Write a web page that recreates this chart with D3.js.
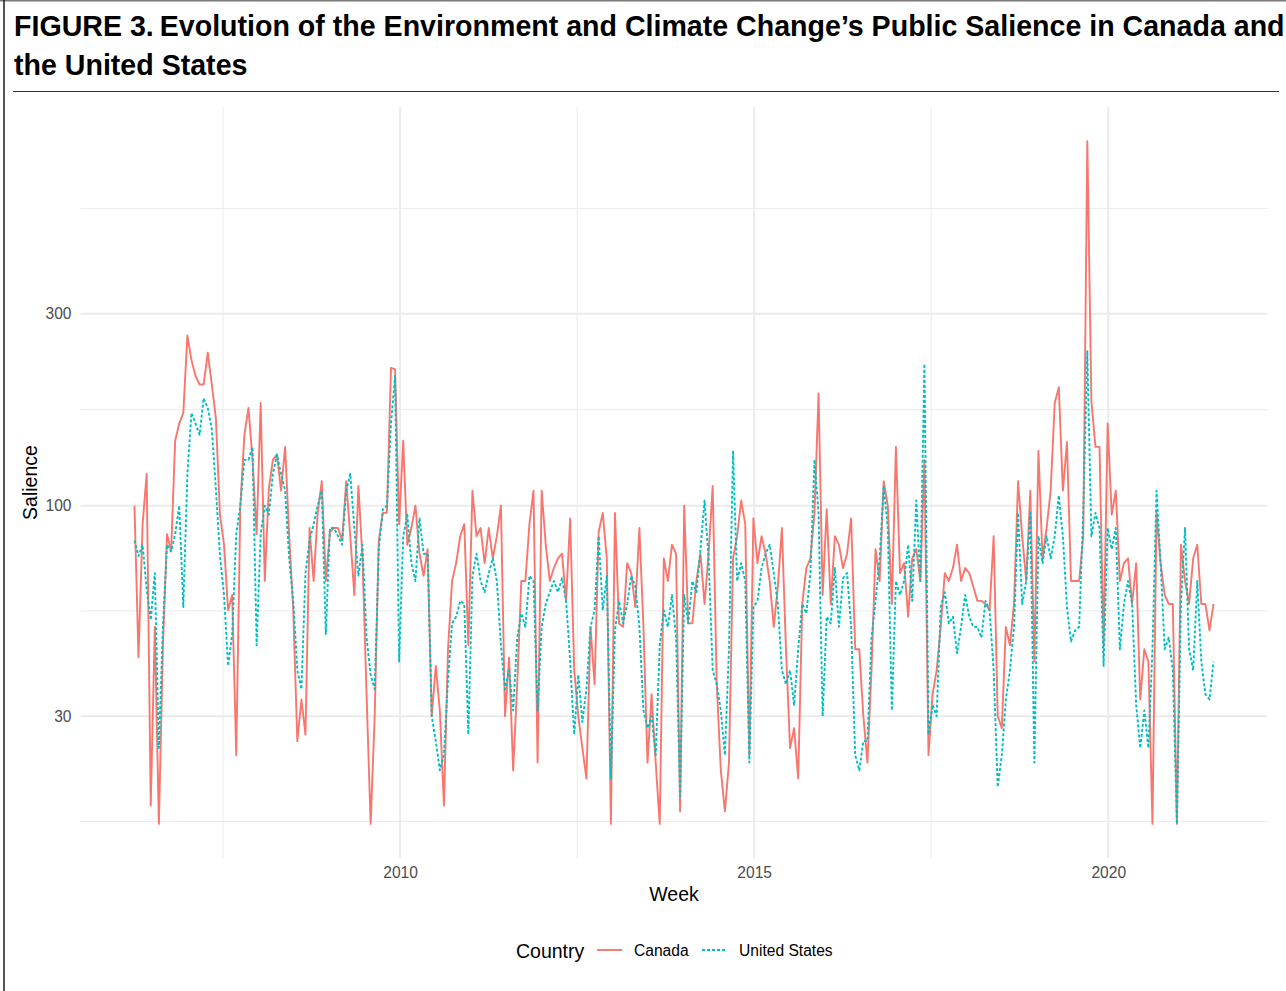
<!DOCTYPE html>
<html>
<head>
<meta charset="utf-8">
<script src="https://cdn.jsdelivr.net/npm/d3@7"></script>
<style>
  html, body { margin: 0; padding: 0; background: #fff; }
  svg { display: block; font-family: "Liberation Sans", Arial, Helvetica, sans-serif; }
</style>
</head>
<body>
<svg id="chart" width="1286" height="991"></svg>
<script>
// Weekly salience series, sampled every third week from the first week.
const firstWeek = "2006-04-02";
const weekStep = 3;

const canada = [
  100, 42, 90, 120, 18, 50, 16.2, 45, 85, 77, 145, 160, 170, 265, 230, 210, 200, 200, 240, 200,
  165, 95, 80, 55, 60, 24, 100, 150, 175, 130, 85, 180, 65, 110, 130, 134, 109, 140, 84, 55,
  26, 33, 27, 88, 65, 96, 115, 65, 86, 88, 88, 82, 115, 84, 60, 112, 74, 34, 16.2, 30,
  82, 96, 96, 220, 218, 90, 145, 80, 88, 100, 76, 67, 78, 30, 40, 31, 18, 44, 65, 72,
  84, 90, 45, 109, 84, 88, 72, 88, 74, 84, 100, 30, 42, 22, 36, 65, 65, 90, 109, 23,
  109, 80, 65, 70, 74, 76, 58, 93, 39, 30, 25, 21, 50, 36, 86, 96, 74, 16.2, 96, 51,
  50, 72, 68, 56, 88, 50, 23, 34, 23, 16.2, 74, 65, 80, 76, 17.4, 100, 51, 51, 65, 76,
  57, 76, 112, 36, 22, 17.4, 23, 74, 84, 103, 90, 24, 93, 72, 84, 76, 65, 50, 63, 88,
  44, 25, 28, 21, 57, 70, 74, 96, 190, 60, 98, 57, 84, 80, 70, 76, 93, 44, 44, 30,
  23, 39, 78, 65, 115, 100, 57, 140, 68, 72, 53, 74, 78, 65, 130, 24, 34, 39, 50, 68,
  65, 70, 80, 65, 70, 68, 63, 58, 58, 57, 55, 84, 30, 28, 50, 45, 57, 115, 84, 65,
  109, 41, 137, 74, 88, 109, 180, 197, 109, 144, 65, 65, 65, 84, 805, 182, 140, 140, 45, 160,
  95, 109, 65, 72, 74, 57, 72, 33, 44, 41, 16.2, 96, 72, 60, 57, 57, 16.2, 80, 65, 57,
  74, 80, 57, 57, 49, 57
];

const unitedStates = [
  82, 75, 80, 62, 52, 68, 25, 50, 80, 77, 85, 100, 56, 120, 170, 160, 150, 185, 175, 155,
  110, 75, 60, 40, 48, 85, 100, 130, 130, 140, 45, 85, 100, 95, 120, 134, 120, 109, 74, 58,
  39, 35, 68, 82, 90, 100, 109, 48, 88, 88, 84, 80, 109, 120, 88, 67, 80, 47, 38, 35,
  78, 98, 100, 160, 210, 41, 84, 95, 72, 65, 93, 76, 76, 30, 26, 22, 24, 37, 51, 53,
  58, 57, 27, 67, 76, 65, 61, 68, 74, 65, 45, 35, 39, 31, 47, 54, 50, 67, 65, 31,
  50, 57, 61, 65, 61, 66, 58, 41, 27, 38, 29, 35, 50, 55, 84, 55, 67, 21, 49, 58,
  51, 57, 67, 63, 50, 31, 28, 30, 24, 45, 55, 50, 60, 47, 19, 60, 51, 65, 61, 78,
  103, 74, 39, 36, 31, 24, 44, 137, 65, 72, 65, 23, 56, 58, 70, 76, 80, 68, 57, 39,
  36, 39, 32, 44, 57, 54, 68, 130, 96, 30, 53, 51, 70, 50, 66, 68, 50, 24, 22, 26,
  26, 47, 58, 74, 112, 88, 31, 65, 60, 65, 80, 58, 103, 65, 225, 27, 32, 30, 56, 61,
  51, 53, 43, 50, 60, 53, 50, 50, 47, 58, 55, 39, 20, 24, 33, 39, 50, 96, 57, 65,
  96, 23, 84, 72, 84, 74, 84, 106, 84, 56, 46, 49, 50, 96, 242, 84, 96, 88, 40, 88,
  78, 88, 44, 57, 65, 57, 32, 25, 31, 25, 44, 109, 72, 44, 47, 39, 16.2, 57, 88, 44,
  39, 65, 41, 34, 33, 41
];

const seriesNames = ["Canada", "United States"];
const seriesColors = ["#F8766D", "#00BFC4"];
const yTickValues = [30, 100, 300];
const xTickYears = [2010, 2015, 2020];

const titleLines = [
  "FIGURE 3.",
  "Evolution of the Environment and Climate Change\u2019s Public Salience in Canada and",
  "the United States"
];

const svg = d3.select("#chart");
const W = 1286, H = 991;
const panel = { left: 80.5, right: 1267.5, top: 107, bottom: 858 };

// ---- frame and title ----
svg.append("line").attr("x1", 0).attr("x2", W).attr("y1", 0.75).attr("y2", 0.75)
  .attr("stroke", "#7a7a7a").attr("stroke-width", 1.5);
svg.append("line").attr("x1", 4).attr("x2", 4).attr("y1", 0).attr("y2", H)
  .attr("stroke", "#1a1a1a").attr("stroke-width", 1.5);

const titleLeft = 14, titleRight = 1279;
const t1 = svg.append("text").attr("x", titleLeft).attr("y", 36)
  .attr("font-weight", "bold").attr("font-size", 26).attr("fill", "#000");
t1.append("tspan").text(titleLines[0]);
t1.append("tspan").attr("dx", 6).text(titleLines[1]);
const measured = t1.node().getComputedTextLength();
const titleSize = 26 * (titleRight - titleLeft) / measured;
t1.attr("font-size", titleSize);
svg.append("text").attr("x", titleLeft).attr("y", 75)
  .attr("font-weight", "bold").attr("font-size", titleSize).attr("fill", "#000")
  .text(titleLines[2]);
svg.append("line").attr("x1", 13).attr("x2", 1279).attr("y1", 91.5).attr("y2", 91.5)
  .attr("stroke", "#333").attr("stroke-width", 1);

// ---- data ----
const dayMs = 864e5;
const t0 = new Date(firstWeek + "T00:00:00Z");
const rows = canada.map((v, i) => ({
  date: new Date(t0.getTime() + i * weekStep * 7 * dayMs),
  values: [v, unitedStates[i]]
}));

const [d0, d1] = d3.extent(rows, r => r.date);
const span = d1 - d0;
const x = d3.scaleUtc()
  .domain([new Date(+d0 - span * 0.05), new Date(+d1 + span * 0.05)])
  .range([panel.left, panel.right]);

const [v0, v1] = d3.extent(canada.concat(unitedStates));
const l0 = Math.log10(v0), l1 = Math.log10(v1), ls = l1 - l0;
const y = d3.scaleLog()
  .domain([Math.pow(10, l0 - ls * 0.05), Math.pow(10, l1 + ls * 0.05)])
  .range([panel.bottom, panel.top]);

// ---- grid ----
const grid = svg.append("g");
const gridColor = "#EBEBEB";

// minor y lines: midpoints (in log space) between majors, extended one step each way
const ly = yTickValues.map(Math.log10);
const bdY = ly[1] - ly[0];
const extY = [ly[0] - bdY, ...ly, ly[ly.length - 1] + bdY];
const minorY = d3.pairs(extY).map(([a, b]) => Math.pow(10, (a + b) / 2))
  .filter(v => v > y.domain()[0] && v < y.domain()[1]);

const xMajor = xTickYears.map(yr => new Date(Date.UTC(yr, 0, 1)));
const stepYr = xTickYears[1] - xTickYears[0];
const extX = [xTickYears[0] - stepYr, ...xTickYears, xTickYears[xTickYears.length - 1] + stepYr]
  .map(yr => new Date(Date.UTC(yr, 0, 1)));
const minorX = d3.pairs(extX).map(([a, b]) => new Date((+a + +b) / 2))
  .filter(d => d > x.domain()[0] && d < x.domain()[1]);

grid.selectAll(".ymin").data(minorY).join("line")
  .attr("x1", panel.left).attr("x2", panel.right)
  .attr("y1", d => y(d)).attr("y2", d => y(d))
  .attr("stroke", gridColor).attr("stroke-width", 1);
grid.selectAll(".xmin").data(minorX).join("line")
  .attr("y1", panel.top).attr("y2", panel.bottom)
  .attr("x1", d => x(d)).attr("x2", d => x(d))
  .attr("stroke", gridColor).attr("stroke-width", 1);
grid.selectAll(".ymaj").data(yTickValues).join("line")
  .attr("x1", panel.left).attr("x2", panel.right)
  .attr("y1", d => y(d)).attr("y2", d => y(d))
  .attr("stroke", gridColor).attr("stroke-width", 2);
grid.selectAll(".xmaj").data(xMajor).join("line")
  .attr("y1", panel.top).attr("y2", panel.bottom)
  .attr("x1", d => x(d)).attr("x2", d => x(d))
  .attr("stroke", gridColor).attr("stroke-width", 2);

// ---- lines ----
const lines = svg.append("g");
seriesNames.forEach((name, k) => {
  const gen = d3.line().x(r => x(r.date)).y(r => y(r.values[k]));
  const p = lines.append("path").datum(rows)
    .attr("d", gen)
    .attr("fill", "none")
    .attr("stroke", seriesColors[k])
    .attr("stroke-width", 1.9)
    .attr("stroke-linejoin", "round");
  if (k === 1) p.attr("stroke-dasharray", "3 2");
});

// ---- axes ----
const tickColor = "#4D4D4D";
const yAxis = svg.append("g").attr("transform", `translate(${panel.left - 9},0)`)
  .call(d3.axisLeft(y).tickValues(yTickValues).tickFormat(d3.format("d")).tickSize(0).tickPadding(0));
yAxis.select(".domain").remove();
yAxis.selectAll("text").attr("font-size", 15.6).attr("fill", tickColor)
  .attr("font-family", "Liberation Sans, Arial, sans-serif");

const xAxis = svg.append("g").attr("transform", `translate(0,${panel.bottom + 9})`)
  .call(d3.axisBottom(x).tickValues(xMajor).tickFormat(d3.utcFormat("%Y")).tickSize(0).tickPadding(0));
xAxis.select(".domain").remove();
xAxis.selectAll("text").attr("font-size", 15.6).attr("fill", tickColor)
  .attr("font-family", "Liberation Sans, Arial, sans-serif");

svg.append("text")
  .attr("x", (panel.left + panel.right) / 2).attr("y", 901)
  .attr("text-anchor", "middle").attr("font-size", 19.5).attr("fill", "#000")
  .text("Week");
svg.append("text")
  .attr("transform", `translate(36.5,${(panel.top + panel.bottom) / 2}) rotate(-90)`)
  .attr("text-anchor", "middle").attr("font-size", 19.5).attr("fill", "#000")
  .text("Salience");

// ---- legend ----
const legend = svg.append("g");
legend.append("text").attr("x", 516).attr("y", 958)
  .attr("font-size", 19.5).attr("fill", "#000").text("Country");
const keyX = [597, 702];
seriesNames.forEach((name, k) => {
  const kl = legend.append("line")
    .attr("x1", keyX[k]).attr("x2", keyX[k] + 25)
    .attr("y1", 950).attr("y2", 950)
    .attr("stroke", seriesColors[k]).attr("stroke-width", 1.9);
  if (k === 1) kl.attr("stroke-dasharray", "3 2");
  legend.append("text").attr("x", keyX[k] + 37).attr("y", 955.5)
    .attr("font-size", 15.6).attr("fill", "#000").text(name);
});
</script>
</body>
</html>
